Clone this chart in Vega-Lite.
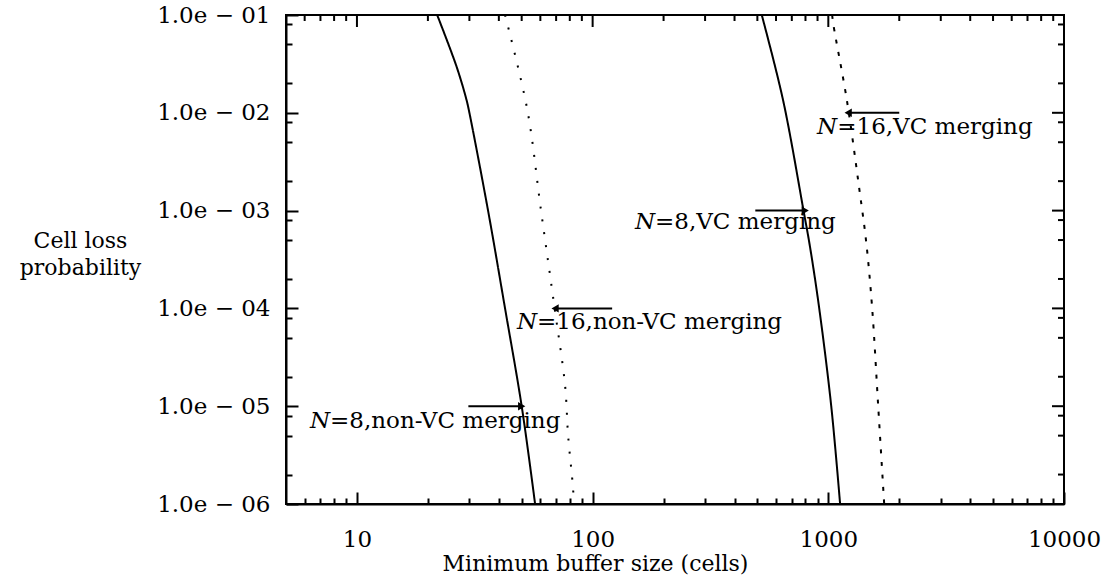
{
  "$schema": "https://vega.github.io/schema/vega-lite/v6.json",
  "width": 778,
  "height": 489,
  "autosize": {"type": "none"},
  "padding": {"left": 286, "top": 15, "right": 38, "bottom": 73},
  "background": "white",
  "resolve": {"axis": {"x": "independent", "y": "independent"}},
  "config": {
    "view": {"stroke": "black", "strokeWidth": 2},
    "font": "DejaVu Serif",
    "axis": {
      "grid": false,
      "domainColor": "black",
      "domainWidth": 2,
      "tickColor": "black",
      "tickWidth": 2,
      "ticks": true,
      "labelFont": "DejaVu Serif",
      "labelFontSize": 23,
      "labelColor": "black",
      "titleFont": "DejaVu Serif",
      "titleFontSize": 22,
      "titleFontWeight": "normal",
      "titleColor": "black"
    }
  },
  "datasets": {
    "curves": [
      {"series": "N8nonVC", "x": 21.9, "y": 0.1},
      {"series": "N8nonVC", "x": 26.5, "y": 0.0294},
      {"series": "N8nonVC", "x": 29.2, "y": 0.0134},
      {"series": "N8nonVC", "x": 30.0, "y": 0.01},
      {"series": "N8nonVC", "x": 36.0, "y": 0.001},
      {"series": "N8nonVC", "x": 42.5, "y": 0.0001},
      {"series": "N8nonVC", "x": 50.0, "y": 0.00001},
      {"series": "N8nonVC", "x": 57.0, "y": 0.000001},
      {"series": "N16nonVC", "x": 42.5, "y": 0.1},
      {"series": "N16nonVC", "x": 52.8, "y": 0.0108},
      {"series": "N16nonVC", "x": 60.4, "y": 0.001},
      {"series": "N16nonVC", "x": 69.0, "y": 0.0001},
      {"series": "N16nonVC", "x": 76.4, "y": 0.0000163},
      {"series": "N16nonVC", "x": 78.7, "y": 0.000005},
      {"series": "N16nonVC", "x": 82.6, "y": 0.00000144},
      {"series": "N16nonVC", "x": 83.2, "y": 0.000001},
      {"series": "N8VC", "x": 522, "y": 0.1},
      {"series": "N8VC", "x": 643, "y": 0.0134},
      {"series": "N8VC", "x": 785, "y": 0.001},
      {"series": "N8VC", "x": 837, "y": 0.00042},
      {"series": "N8VC", "x": 915, "y": 0.0001},
      {"series": "N8VC", "x": 1029, "y": 0.00001},
      {"series": "N8VC", "x": 1122, "y": 0.000001},
      {"series": "N16VC", "x": 1038, "y": 0.1},
      {"series": "N16VC", "x": 1052, "y": 0.0785},
      {"series": "N16VC", "x": 1199, "y": 0.0134},
      {"series": "N16VC", "x": 1356, "y": 0.00161},
      {"series": "N16VC", "x": 1448, "y": 0.000477},
      {"series": "N16VC", "x": 1535, "y": 0.0001},
      {"series": "N16VC", "x": 1628, "y": 0.00001},
      {"series": "N16VC", "x": 1726, "y": 0.000001}
    ],
    "arrows": [
      {"x": 2000, "tip": 1214, "y": 0.01, "dir": "left"},
      {"x": 490, "tip": 798, "y": 0.001, "dir": "right"},
      {"x": 121, "tip": 69.3, "y": 0.0001, "dir": "left"},
      {"x": 29.7, "tip": 50, "y": 0.00001, "dir": "right"}
    ],
    "labels": [
      {"x": 1091, "y": 0.0071, "rest": "=16,VC merging"},
      {"x": 184, "y": 0.000757, "rest": "=8,VC merging"},
      {"x": 58.1, "y": 0.0000718, "rest": "=16,non-VC merging"},
      {"x": 7.69, "y": 0.00000713, "rest": "=8,non-VC merging"}
    ],
    "xticks": [
      {"v": 6, "kind": "minor"}, {"v": 7, "kind": "minor"}, {"v": 8, "kind": "minor"}, {"v": 9, "kind": "minor"},
      {"v": 10, "kind": "major"},
      {"v": 20, "kind": "minor"}, {"v": 30, "kind": "minor"}, {"v": 40, "kind": "minor"}, {"v": 50, "kind": "minor"},
      {"v": 60, "kind": "minor"}, {"v": 70, "kind": "minor"}, {"v": 80, "kind": "minor"}, {"v": 90, "kind": "minor"},
      {"v": 100, "kind": "major"},
      {"v": 200, "kind": "minor"}, {"v": 300, "kind": "minor"}, {"v": 400, "kind": "minor"}, {"v": 500, "kind": "minor"},
      {"v": 600, "kind": "minor"}, {"v": 700, "kind": "minor"}, {"v": 800, "kind": "minor"}, {"v": 900, "kind": "minor"},
      {"v": 1000, "kind": "major"},
      {"v": 2000, "kind": "minor"}, {"v": 3000, "kind": "minor"}, {"v": 4000, "kind": "minor"}, {"v": 5000, "kind": "minor"},
      {"v": 6000, "kind": "minor"}, {"v": 7000, "kind": "minor"}, {"v": 8000, "kind": "minor"}, {"v": 9000, "kind": "minor"}
    ],
    "yticks": [
      {"v": 0.000002, "kind": "minor"}, {"v": 0.000005, "kind": "minor"}, {"v": 0.000008, "kind": "minor"},
      {"v": 0.00001, "kind": "major"},
      {"v": 0.00002, "kind": "minor"}, {"v": 0.00005, "kind": "minor"}, {"v": 0.00008, "kind": "minor"},
      {"v": 0.0001, "kind": "major"},
      {"v": 0.0002, "kind": "minor"}, {"v": 0.0005, "kind": "minor"}, {"v": 0.0008, "kind": "minor"},
      {"v": 0.001, "kind": "major"},
      {"v": 0.002, "kind": "minor"}, {"v": 0.005, "kind": "minor"}, {"v": 0.008, "kind": "minor"},
      {"v": 0.01, "kind": "major"},
      {"v": 0.02, "kind": "minor"}, {"v": 0.05, "kind": "minor"}, {"v": 0.08, "kind": "minor"}
    ]
  },
  "layer": [
    {
      "data": {"name": "curves"},
      "mark": {"type": "line", "color": "black", "strokeCap": "butt", "interpolate": "catmull-rom", "clip": true},
      "encoding": {
        "x": {
          "field": "x", "type": "quantitative",
          "scale": {"type": "log", "domain": [5, 10000], "nice": false},
          "axis": {
            "orient": "bottom",
            "title": "Minimum buffer size (cells)",
            "titleX": 309, "titleY": 49, "titleAnchor": null, "titleAlign": "center", "titleBaseline": "top",
            "values": [6,7,8,9,10,20,30,40,50,60,70,80,90,100,200,300,400,500,600,700,800,900,1000,2000,3000,4000,5000,6000,7000,8000,9000,10000],
            "labelExpr": "indexof([10,100,1000,10000], datum.value) >= 0 ? datum.value + '' : ''",
            "tickSize": {"condition": {"test": "indexof([10,100,1000,10000], datum.value) >= 0", "value": -12}, "value": -6},
            "labelPadding": 36,
            "labelFlush": false,
            "labelOverlap": false
          }
        },
        "y": {
          "field": "y", "type": "quantitative",
          "scale": {"type": "log", "domain": [0.000001, 0.1], "nice": false},
          "axis": {
            "orient": "left",
            "title": ["Cell loss", "probability"],
            "titleAngle": 0, "titleX": -206, "titleY": 215, "titleAlign": "center", "titleBaseline": "top", "titleLineHeight": 27,
            "values": [0.000001,0.000002,0.000005,0.000008,0.00001,0.00002,0.00005,0.00008,0.0001,0.0002,0.0005,0.0008,0.001,0.002,0.005,0.008,0.01,0.02,0.05,0.08,0.1],
            "labelExpr": "indexof([0.1,0.01,0.001,0.0001,0.00001,0.000001], datum.value) >= 0 ? '1.0e − 0' + round(-log(datum.value)/LN10) : ''",
            "tickSize": {"condition": {"test": "indexof([0.1,0.01,0.001,0.0001,0.00001,0.000001], datum.value) >= 0", "value": -12}, "value": -6},
            "labelPadding": 28,
            "labelOverlap": false,
            "labelFlush": false
          }
        },
        "detail": {"field": "series"},
        "strokeDash": {
          "field": "series", "type": "nominal",
          "scale": {"domain": ["N8nonVC", "N16nonVC", "N8VC", "N16VC"], "range": [[1, 0], [2, 11], [1, 0], [4, 8.5]]},
          "legend": null
        },
        "strokeWidth": {
          "field": "series", "type": "nominal",
          "scale": {"domain": ["N8nonVC", "N16nonVC", "N8VC", "N16VC"], "range": [2, 2, 3.5, 4]},
          "legend": null
        }
      }
    },
    {
      "data": {"name": "xticks"},
      "mark": {"type": "tick", "orient": "vertical", "color": "black", "thickness": 2, "clip": true, "opacity": 1},
      "encoding": {
        "x": {"field": "v", "type": "quantitative", "axis": null},
        "y": {"datum": 0.1, "type": "quantitative", "axis": null},
        "size": {"field": "kind", "type": "ordinal", "scale": {"domain": ["major", "minor"], "range": [24, 12]}, "legend": null}
      }
    },
    {
      "data": {"name": "yticks"},
      "mark": {"type": "tick", "orient": "horizontal", "color": "black", "thickness": 2, "clip": true, "opacity": 1},
      "encoding": {
        "y": {"field": "v", "type": "quantitative", "axis": null},
        "x": {"datum": 10000, "type": "quantitative", "axis": null},
        "size": {"field": "kind", "type": "ordinal", "scale": {"domain": ["major", "minor"], "range": [24, 12]}, "legend": null}
      }
    },
    {
      "data": {"name": "arrows"},
      "mark": {"type": "rule", "color": "black", "strokeWidth": 2},
      "encoding": {
        "x": {"field": "x", "type": "quantitative", "axis": null},
        "x2": {"field": "tip"},
        "y": {"field": "y", "type": "quantitative", "axis": null}
      }
    },
    {
      "data": {"name": "arrows"},
      "mark": {"type": "point", "filled": true, "color": "black", "opacity": 1, "size": 70},
      "encoding": {
        "x": {"field": "tip", "type": "quantitative", "axis": null},
        "y": {"field": "y", "type": "quantitative", "axis": null},
        "shape": {
          "field": "dir", "type": "nominal",
          "scale": {"domain": ["left", "right"], "range": ["triangle-left", "triangle-right"]},
          "legend": null
        }
      }
    },
    {
      "data": {"name": "labels"},
      "mark": {"type": "text", "text": "N", "align": "right", "baseline": "middle", "fontStyle": "italic", "fontSize": 23, "font": "DejaVu Serif", "color": "black"},
      "encoding": {
        "x": {"field": "x", "type": "quantitative", "axis": null},
        "y": {"field": "y", "type": "quantitative", "axis": null}
      }
    },
    {
      "data": {"name": "labels"},
      "mark": {"type": "text", "align": "left", "baseline": "middle", "fontSize": 23, "font": "DejaVu Serif", "color": "black"},
      "encoding": {
        "x": {"field": "x", "type": "quantitative", "axis": null},
        "y": {"field": "y", "type": "quantitative", "axis": null},
        "text": {"field": "rest"}
      }
    }
  ]
}
